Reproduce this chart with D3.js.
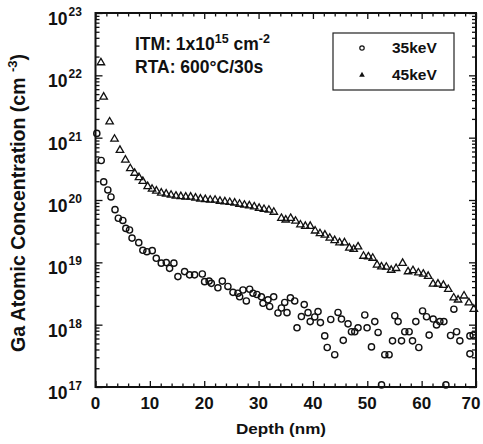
<!DOCTYPE html>
<html>
<head>
<meta charset="utf-8">
<script src="https://cdn.jsdelivr.net/npm/d3@7"></script>
<style>
  body { margin: 0; background: #fff; }
  text { font-family: "Liberation Sans", Arial, sans-serif; font-weight: bold; fill: #111; }
</style>
</head>
<body>
<svg id="chart"></svg>
<script>
// Chart size
const width = 483;
const height = 444;

// Data (depth in nm, concentration in cm^-3)
const depth35 = [0.24, 1.05, 1.51, 2.27, 2.85, 3.59, 4.2, 5.03, 5.58, 6.26, 6.72, 7.96, 8.71, 9.45, 10.44,
  11.18, 12.1, 13.02, 13.63, 14.42, 15.16, 16.39, 17.31, 18.23, 19.65, 20.07, 20.9, 21.31, 22.52, 23.33,
  24.36, 25.29, 26.2, 26.52, 27.13, 27.75, 28.36, 28.97, 29.7, 30.52, 30.81, 31.73, 32.04, 32.78, 33.57,
  34.2, 34.81, 35.23, 35.86, 36.65, 37.07, 37.88, 38.4, 39.1, 39.5, 40.33, 40.94, 41.38, 42.17, 42.63,
  43.28, 44.01, 44.62, 45.25, 45.58, 46.46, 47.09, 47.7, 48.3, 49.54, 49.96, 50.77, 51.38, 51.99, 52.62,
  53.22, 54.01, 54.64, 55.06, 55.67, 56.3, 56.9, 57.7, 58.32, 58.93, 59.48, 60.17, 60.9, 61.38, 62.12,
  62.74, 63.35, 64.09, 64.46, 65.32, 65.93, 66.43, 67.03, 68.88, 68.88, 69.48];
const conc35 = [1.17e21, 4.3e20, 1.95e20, 1.45e20, 1.12e20, 7.0e19, 5.1e19, 4.7e19, 3.5e19, 3.3e19, 2.45e19, 2.07e19, 1.56e19, 1.48e19, 1.54e19,
  1.16e19, 9.7e18, 9.9e18, 8.0e18, 9.7e18, 5.9e18, 7.1e18, 6.3e18, 6.3e18, 6.5e18, 4.9e18, 5.0e18, 4.6e18, 3.9e18, 5.0e18,
  4.1e18, 3.3e18, 3.2e18, 2.8e18, 3.6e18, 2.4e18, 3.7e18, 3.2e18, 3.05e18, 2.8e18, 2.2e18, 2.5e18, 1.96e18, 2.8e18, 1.54e18,
  1.85e18, 2.27e18, 1.56e18, 2.7e18, 2.4e18, 8.9e17, 1.35e18, 2.1e18, 1.56e18, 1.12e18, 1.33e18, 1.62e18, 1.08e18, 6.6e17, 4.3e17,
  1.21e18, 3.3e17, 1.57e18, 1.23e18, 5.6e17, 1.03e18, 7.7e17, 7.7e17, 8.9e17, 1.43e18, 8.9e17, 4.4e17, 1.12e18, 7.5e17, 1.08e17,
  3.3e17, 3.3e17, 5.5e17, 1.39e18, 1.12e18, 5.5e17, 7.7e17, 7.7e17, 5.5e17, 1.12e18, 4.3e17, 1.66e18, 1.34e18, 6.8e17, 1.23e18,
  9.9e17, 1.12e18, 1.12e18, 1.08e17, 6.7e17, 1.77e18, 7.7e17, 5.5e17, 6.6e17, 3.4e17, 6.8e17];

const depth45 = [1.0, 1.5, 2.6, 3.5, 4.5, 5.5, 6.4, 7.2, 8.0, 8.7, 9.6, 10.4, 11.2, 12.1, 13.0, 13.9, 14.8,
  15.7, 16.6, 17.5, 18.4, 19.3, 20.2, 21.1, 22.0, 22.9, 23.8, 24.7, 25.6, 26.5, 27.4, 28.3, 29.2, 30.1,
  31.0, 31.9, 32.8, 34.2, 35.0, 35.9, 36.8, 37.7, 38.6, 39.5, 40.4, 41.3, 42.2, 43.1, 44.0, 44.9, 45.8,
  46.7, 47.5, 48.3, 49.3, 50.2, 51.0, 51.8, 52.6, 53.5, 54.4, 55.3, 56.5, 57.5, 58.4, 59.4, 60.3, 61.2,
  62.1, 63.0, 64.0, 64.9, 65.9, 66.7, 67.8, 68.7, 69.6];
const conc45 = [1.6e22, 4.5e21, 1.8e21, 9.5e20, 6.3e20, 4.4e20, 3.2e20, 2.7e20, 2.3e20, 2.0e20, 1.65e20, 1.5e20, 1.4e20, 1.3e20, 1.25e20, 1.2e20, 1.16e20,
  1.14e20, 1.12e20, 1.12e20, 1.08e20, 1.04e20, 1.02e20, 1.0e20, 1.0e20, 9.6e19, 9.4e19, 9.2e19, 9.0e19, 8.6e19, 8.3e19, 8.1e19, 7.8e19, 7.4e19,
  7.1e19, 6.9e19, 6.4e19, 5.1e19, 4.8e19, 5.1e19, 4.6e19, 4.0e19, 3.8e19, 3.8e19, 3.2e19, 2.9e19, 2.75e19, 2.45e19, 2.25e19, 2.07e19, 2.07e19,
  1.7e19, 1.62e19, 1.78e19, 1.26e19, 1.23e19, 1.17e19, 9.1e18, 8.5e18, 8.4e18, 7.5e18, 8.0e18, 9.7e18, 7.1e18, 7.4e18, 6.8e18, 6.5e18, 6.0e18,
  4.5e18, 4.5e18, 4.3e18, 3.7e18, 2.7e18, 2.5e18, 2.9e18, 2.25e18, 1.77e18];

const xTickValues = [0, 10, 20, 30, 40, 50, 60, 70];
const yTickExponents = [17, 18, 19, 20, 21, 22, 23];
const seriesNames = ["35keV", "45keV"];

const svg = d3.select("#chart")
    .attr("width", width)
    .attr("height", height);

// Plot frame
const plotLeft = 95.5, plotRight = 476, plotTop = 13, plotBottom = 387;

const x = d3.scaleLinear().domain([0, 70]).range([plotLeft, plotRight]);
const y = d3.scaleLog().domain([1e17, 1e23]).range([plotBottom, plotTop]);

const minorX = d3.range(0, 71, 2).filter(v => v % 10 !== 0);
const minorY = y.ticks().filter(v => Math.abs(Math.log10(v) - Math.round(Math.log10(v))) > 1e-6);
const majorY = yTickExponents.map(e => Math.pow(10, e));

// Ticks on all four sides, pointing inward
function addAxis(axis, transform) {
    const g = svg.append("g")
        .attr("transform", transform)
        .call(axis);
    g.select(".domain").remove();
    g.selectAll(".tick line").attr("stroke", "#111").attr("stroke-width", 1.3);
    g.selectAll(".tick text").remove();
    return g;
}

addAxis(d3.axisBottom(x).tickValues(xTickValues).tickSize(-6), `translate(0,${plotBottom})`);
addAxis(d3.axisBottom(x).tickValues(minorX).tickSize(-3.5), `translate(0,${plotBottom})`);
addAxis(d3.axisTop(x).tickValues(xTickValues).tickSize(-6), `translate(0,${plotTop})`);
addAxis(d3.axisTop(x).tickValues(minorX).tickSize(-3.5), `translate(0,${plotTop})`);
addAxis(d3.axisLeft(y).tickValues(majorY).tickSize(-7), `translate(${plotLeft},0)`);
addAxis(d3.axisLeft(y).tickValues(minorY).tickSize(-4), `translate(${plotLeft},0)`);
addAxis(d3.axisRight(y).tickValues(majorY).tickSize(-7), `translate(${plotRight},0)`);
addAxis(d3.axisRight(y).tickValues(minorY).tickSize(-4), `translate(${plotRight},0)`);

// Frame border
svg.append("rect")
    .attr("x", plotLeft)
    .attr("y", plotTop)
    .attr("width", plotRight - plotLeft)
    .attr("height", plotBottom - plotTop)
    .attr("fill", "none")
    .attr("stroke", "#111")
    .attr("stroke-width", 2);

// X tick labels (last one pulled in so it stays on the page)
svg.selectAll(".xlabel")
    .data(xTickValues)
    .enter().append("text")
    .attr("class", "xlabel")
    .attr("x", d => Math.min(x(d), 471))
    .attr("y", 409)
    .attr("text-anchor", "middle")
    .style("font-size", "17px")
    .text(d => d);

// Y tick labels as 10^n
const yLab = svg.selectAll(".ylabel")
    .data(yTickExponents)
    .enter().append("text")
    .attr("class", "ylabel")
    .attr("x", 48)
    .attr("y", d => y(Math.pow(10, d)) + 12)
    .style("font-size", "17.5px");
yLab.append("tspan").text("10");
yLab.append("tspan")
    .attr("dy", -9)
    .attr("dx", 1)
    .style("font-size", "12px")
    .text(d => d);

// Axis titles
svg.append("text")
    .attr("x", 281)
    .attr("y", 434)
    .attr("text-anchor", "middle")
    .attr("textLength", 90)
    .attr("lengthAdjust", "spacingAndGlyphs")
    .style("font-size", "15.5px")
    .text("Depth (nm)");

const yTitle = svg.append("text")
    .attr("transform", "translate(25,203) rotate(-90)")
    .attr("text-anchor", "middle")
    .style("font-size", "19.5px");
yTitle.append("tspan").text("Ga Atomic Concentration (cm ");
yTitle.append("tspan").attr("dy", -8).style("font-size", "13px").text("-3");
yTitle.append("tspan").attr("dy", 8).text(")");

// Annotation
const note1 = svg.append("text")
    .attr("x", 135)
    .attr("y", 50)
    .style("font-size", "17.5px");
note1.append("tspan").text("ITM: 1x10");
note1.append("tspan").attr("dy", -7).style("font-size", "12.5px").text("15");
note1.append("tspan").attr("dy", 7).text(" cm");
note1.append("tspan").attr("dy", -7).style("font-size", "12.5px").text("-2");

svg.append("text")
    .attr("x", 135)
    .attr("y", 73)
    .style("font-size", "17.5px")
    .text("RTA: 600\u00B0C/30s");

// Data markers
const tri = d3.symbol().type(d3.symbolTriangle).size(24);

svg.append("g")
    .selectAll("circle")
    .data(depth35.map((d, i) => [d, conc35[i]]))
    .enter().append("circle")
    .attr("cx", d => x(d[0]))
    .attr("cy", d => y(d[1]))
    .attr("r", 3.1)
    .attr("fill", "none")
    .attr("stroke", "#111")
    .attr("stroke-width", 1.4);

svg.append("g")
    .selectAll("path")
    .data(depth45.map((d, i) => [d, conc45[i]]))
    .enter().append("path")
    .attr("d", tri)
    .attr("transform", d => `translate(${x(d[0])},${y(d[1])})`)
    .attr("fill", "none")
    .attr("stroke", "#111")
    .attr("stroke-width", 1.3);

// Legend
const legend = svg.append("g");
legend.append("rect")
    .attr("x", 333)
    .attr("y", 33)
    .attr("width", 121)
    .attr("height", 57)
    .attr("fill", "#fff")
    .attr("stroke", "#222")
    .attr("stroke-width", 1.2);

legend.append("circle")
    .attr("cx", 362)
    .attr("cy", 48)
    .attr("r", 2.2)
    .attr("fill", "none")
    .attr("stroke", "#111")
    .attr("stroke-width", 1.2);

legend.append("path")
    .attr("d", d3.symbol().type(d3.symbolTriangle).size(14))
    .attr("transform", "translate(362,75)")
    .attr("fill", "#111");

seriesNames.forEach((name, i) => {
    legend.append("text")
        .attr("x", 392)
        .attr("y", 53 + i * 27)
        .style("font-size", "15.5px")
        .text(name);
});
</script>
</body>
</html>
